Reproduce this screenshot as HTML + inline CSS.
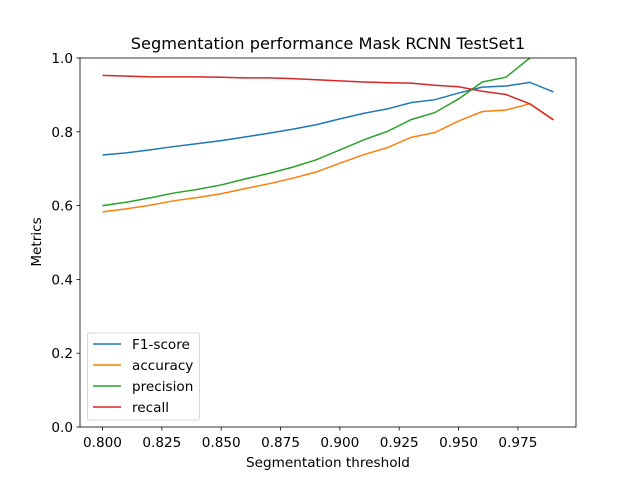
<!DOCTYPE html>
<html><head><meta charset="utf-8"><style>body{margin:0;background:#fff}svg{display:block;font-family:"DejaVu Sans","Liberation Sans",sans-serif}</style></head>
<body>
<svg id="chart" width="640" height="480">
<rect width="640" height="480" fill="#fff"/>
<defs><clipPath id="clip"><rect x="80" y="58" width="496" height="369"/></clipPath></defs>
<text x="328" y="49" font-size="16.2" text-anchor="middle">Segmentation performance Mask RCNN TestSet1</text>
<g id="series" clip-path="url(#clip)"></g>
<g id="axes"></g>
<rect x="80" y="58" width="496" height="369" fill="none" stroke="#000" stroke-width="0.8"/>
<text x="328" y="467" font-size="13.6" text-anchor="middle">Segmentation threshold</text>
<text x="41" y="242" font-size="13.6" text-anchor="middle" transform="rotate(-90 41 242)">Metrics</text>
<g id="legend"></g>
</svg>
<script>
const thresholds=[0.80,0.81,0.82,0.83,0.84,0.85,0.86,0.87,0.88,0.89,0.90,0.91,0.92,0.93,0.94,0.95,0.96,0.97,0.98,0.99];
const f1=[0.737,0.743,0.751,0.760,0.768,0.776,0.786,0.796,0.807,0.819,0.835,0.850,0.862,0.879,0.887,0.905,0.921,0.924,0.934,0.908];
const accuracy=[0.583,0.591,0.601,0.613,0.622,0.632,0.646,0.659,0.674,0.691,0.715,0.738,0.757,0.785,0.798,0.829,0.855,0.859,0.876,0.833];
const precision=[0.600,0.609,0.621,0.634,0.644,0.656,0.672,0.687,0.704,0.724,0.751,0.778,0.801,0.833,0.852,0.889,0.935,0.948,1.0,1.06];
const recall=[0.953,0.951,0.949,0.949,0.949,0.948,0.946,0.946,0.944,0.941,0.938,0.935,0.933,0.932,0.926,0.922,0.910,0.901,0.876,0.832];
const xTicks=[0.800,0.825,0.850,0.875,0.900,0.925,0.950,0.975];
const yTicks=[0.0,0.2,0.4,0.6,0.8,1.0];
const seriesNames=["F1-score","accuracy","precision","recall"];
const NS="http://www.w3.org/2000/svg";
const xs=v=>102.5+(v-0.80)/(0.19)*451;
const ys=v=>427-v*369;
function mk(t,a,p){const e=document.createElementNS(NS,t);for(const k in a)e.setAttribute(k,a[k]);p.appendChild(e);return e;}
const axes=document.getElementById('axes');
xTicks.forEach(t=>{const x=xs(t);
const l=mk('line',{x1:x,x2:x,y1:427,y2:430.5,stroke:'#000','stroke-width':0.8},axes);


const tx=mk('text',{x:x,y:447,'font-size':13.6,'text-anchor':'middle'},axes);tx.textContent=t.toFixed(3);

});
yTicks.forEach(t=>{const y=ys(t);
const l=mk('line',{x1:76.5,x2:80,y1:y,y2:y,stroke:'#000','stroke-width':0.8},axes);


const tx=mk('text',{x:73,y:y+5,'font-size':13.6,'text-anchor':'end'},axes);tx.textContent=t.toFixed(1);

});
const colors=['#1f77b4','#ff7f0e','#2ca02c','#d62728'];
const data=[f1,accuracy,precision,recall];
const sg=document.getElementById('series');
data.forEach((d,i)=>{const p=mk('polyline',{points:d.map((v,j)=>xs(thresholds[j])+','+ys(v)).join(' '),fill:'none',stroke:colors[i],'stroke-width':1.5},sg);

});
const lg=document.getElementById('legend');
const box=mk('rect',{x:87.5,y:333,width:112,height:87,rx:2,fill:'#fff','fill-opacity':0.8,stroke:'#ccc','stroke-width':0.8},lg);


seriesNames.forEach((n,i)=>{const y=344+i*21;
const l=mk('line',{x1:93,x2:121,y1:y,y2:y,stroke:colors[i],'stroke-width':1.5},lg);


const t=mk('text',{x:132,y:y+5,'font-size':13.6},lg);t.textContent=n;

});
</script>
</body></html>
